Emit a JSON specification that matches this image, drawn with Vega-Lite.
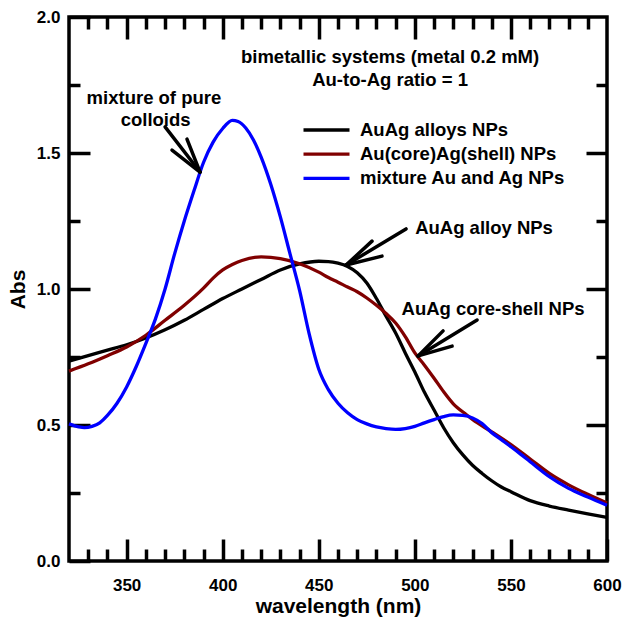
{
  "$schema": "https://vega.github.io/schema/vega-lite/v6.json",
  "width": 538,
  "height": 544,
  "autosize": {"type": "none"},
  "padding": {"left": 69, "top": 17, "right": 16, "bottom": 58},
  "config": {
    "view": {"stroke": "black", "strokeWidth": 3.5},
    "font": "Liberation Sans",
    "axis": {"domain": false, "grid": false, "tickColor": "black", "tickWidth": 3.5, "labelColor": "black", "titleColor": "black", "labelFont": "Liberation Sans", "titleFont": "Liberation Sans", "labelFontWeight": "bold", "titleFontWeight": "bold", "labelFontSize": 17, "titleFontSize": 21, "labelFlush": false, "labelOverlap": false}
  },
  "datasets": {
    "curves": [
      {"series": "AuAg alloys NPs", "wavelength": 320, "abs": 0.735},
      {"series": "AuAg alloys NPs", "wavelength": 330, "abs": 0.755},
      {"series": "AuAg alloys NPs", "wavelength": 340, "abs": 0.775},
      {"series": "AuAg alloys NPs", "wavelength": 350, "abs": 0.795},
      {"series": "AuAg alloys NPs", "wavelength": 360, "abs": 0.82},
      {"series": "AuAg alloys NPs", "wavelength": 370, "abs": 0.85},
      {"series": "AuAg alloys NPs", "wavelength": 380, "abs": 0.885},
      {"series": "AuAg alloys NPs", "wavelength": 390, "abs": 0.925},
      {"series": "AuAg alloys NPs", "wavelength": 400, "abs": 0.965},
      {"series": "AuAg alloys NPs", "wavelength": 410, "abs": 1.0},
      {"series": "AuAg alloys NPs", "wavelength": 420, "abs": 1.035},
      {"series": "AuAg alloys NPs", "wavelength": 430, "abs": 1.07},
      {"series": "AuAg alloys NPs", "wavelength": 440, "abs": 1.092},
      {"series": "AuAg alloys NPs", "wavelength": 450, "abs": 1.102},
      {"series": "AuAg alloys NPs", "wavelength": 455, "abs": 1.101},
      {"series": "AuAg alloys NPs", "wavelength": 460, "abs": 1.095},
      {"series": "AuAg alloys NPs", "wavelength": 465, "abs": 1.083},
      {"series": "AuAg alloys NPs", "wavelength": 470, "abs": 1.06},
      {"series": "AuAg alloys NPs", "wavelength": 475, "abs": 1.022},
      {"series": "AuAg alloys NPs", "wavelength": 480, "abs": 0.965},
      {"series": "AuAg alloys NPs", "wavelength": 485, "abs": 0.9},
      {"series": "AuAg alloys NPs", "wavelength": 490, "abs": 0.838},
      {"series": "AuAg alloys NPs", "wavelength": 495, "abs": 0.765},
      {"series": "AuAg alloys NPs", "wavelength": 500, "abs": 0.695},
      {"series": "AuAg alloys NPs", "wavelength": 505, "abs": 0.62},
      {"series": "AuAg alloys NPs", "wavelength": 510, "abs": 0.555},
      {"series": "AuAg alloys NPs", "wavelength": 515, "abs": 0.49},
      {"series": "AuAg alloys NPs", "wavelength": 520, "abs": 0.435},
      {"series": "AuAg alloys NPs", "wavelength": 525, "abs": 0.39},
      {"series": "AuAg alloys NPs", "wavelength": 530, "abs": 0.352},
      {"series": "AuAg alloys NPs", "wavelength": 535, "abs": 0.322},
      {"series": "AuAg alloys NPs", "wavelength": 540, "abs": 0.295},
      {"series": "AuAg alloys NPs", "wavelength": 545, "abs": 0.272},
      {"series": "AuAg alloys NPs", "wavelength": 550, "abs": 0.255},
      {"series": "AuAg alloys NPs", "wavelength": 560, "abs": 0.222},
      {"series": "AuAg alloys NPs", "wavelength": 570, "abs": 0.202},
      {"series": "AuAg alloys NPs", "wavelength": 580, "abs": 0.187},
      {"series": "AuAg alloys NPs", "wavelength": 590, "abs": 0.173},
      {"series": "AuAg alloys NPs", "wavelength": 600, "abs": 0.16},
      {"series": "Au(core)Ag(shell) NPs", "wavelength": 320, "abs": 0.698},
      {"series": "Au(core)Ag(shell) NPs", "wavelength": 330, "abs": 0.725},
      {"series": "Au(core)Ag(shell) NPs", "wavelength": 340, "abs": 0.755},
      {"series": "Au(core)Ag(shell) NPs", "wavelength": 350, "abs": 0.787},
      {"series": "Au(core)Ag(shell) NPs", "wavelength": 360, "abs": 0.83},
      {"series": "Au(core)Ag(shell) NPs", "wavelength": 370, "abs": 0.885},
      {"series": "Au(core)Ag(shell) NPs", "wavelength": 380, "abs": 0.94},
      {"series": "Au(core)Ag(shell) NPs", "wavelength": 390, "abs": 1.003},
      {"series": "Au(core)Ag(shell) NPs", "wavelength": 395, "abs": 1.04},
      {"series": "Au(core)Ag(shell) NPs", "wavelength": 400, "abs": 1.07},
      {"series": "Au(core)Ag(shell) NPs", "wavelength": 405, "abs": 1.09},
      {"series": "Au(core)Ag(shell) NPs", "wavelength": 410, "abs": 1.105},
      {"series": "Au(core)Ag(shell) NPs", "wavelength": 420, "abs": 1.118},
      {"series": "Au(core)Ag(shell) NPs", "wavelength": 430, "abs": 1.112},
      {"series": "Au(core)Ag(shell) NPs", "wavelength": 440, "abs": 1.093},
      {"series": "Au(core)Ag(shell) NPs", "wavelength": 450, "abs": 1.062},
      {"series": "Au(core)Ag(shell) NPs", "wavelength": 455, "abs": 1.042},
      {"series": "Au(core)Ag(shell) NPs", "wavelength": 460, "abs": 1.025},
      {"series": "Au(core)Ag(shell) NPs", "wavelength": 465, "abs": 1.007},
      {"series": "Au(core)Ag(shell) NPs", "wavelength": 470, "abs": 0.99},
      {"series": "Au(core)Ag(shell) NPs", "wavelength": 475, "abs": 0.967},
      {"series": "Au(core)Ag(shell) NPs", "wavelength": 480, "abs": 0.94},
      {"series": "Au(core)Ag(shell) NPs", "wavelength": 485, "abs": 0.91},
      {"series": "Au(core)Ag(shell) NPs", "wavelength": 490, "abs": 0.875},
      {"series": "Au(core)Ag(shell) NPs", "wavelength": 495, "abs": 0.825},
      {"series": "Au(core)Ag(shell) NPs", "wavelength": 500, "abs": 0.765},
      {"series": "Au(core)Ag(shell) NPs", "wavelength": 505, "abs": 0.72},
      {"series": "Au(core)Ag(shell) NPs", "wavelength": 510, "abs": 0.672},
      {"series": "Au(core)Ag(shell) NPs", "wavelength": 515, "abs": 0.622},
      {"series": "Au(core)Ag(shell) NPs", "wavelength": 520, "abs": 0.578},
      {"series": "Au(core)Ag(shell) NPs", "wavelength": 527, "abs": 0.537},
      {"series": "Au(core)Ag(shell) NPs", "wavelength": 530, "abs": 0.52},
      {"series": "Au(core)Ag(shell) NPs", "wavelength": 540, "abs": 0.475},
      {"series": "Au(core)Ag(shell) NPs", "wavelength": 550, "abs": 0.428},
      {"series": "Au(core)Ag(shell) NPs", "wavelength": 560, "abs": 0.375},
      {"series": "Au(core)Ag(shell) NPs", "wavelength": 570, "abs": 0.322},
      {"series": "Au(core)Ag(shell) NPs", "wavelength": 580, "abs": 0.28},
      {"series": "Au(core)Ag(shell) NPs", "wavelength": 590, "abs": 0.245},
      {"series": "Au(core)Ag(shell) NPs", "wavelength": 600, "abs": 0.213},
      {"series": "mixture Au and Ag NPs", "wavelength": 320, "abs": 0.504},
      {"series": "mixture Au and Ag NPs", "wavelength": 325, "abs": 0.493},
      {"series": "mixture Au and Ag NPs", "wavelength": 328, "abs": 0.49},
      {"series": "mixture Au and Ag NPs", "wavelength": 332, "abs": 0.495},
      {"series": "mixture Au and Ag NPs", "wavelength": 336, "abs": 0.508},
      {"series": "mixture Au and Ag NPs", "wavelength": 340, "abs": 0.535},
      {"series": "mixture Au and Ag NPs", "wavelength": 345, "abs": 0.58},
      {"series": "mixture Au and Ag NPs", "wavelength": 350, "abs": 0.64},
      {"series": "mixture Au and Ag NPs", "wavelength": 355, "abs": 0.715},
      {"series": "mixture Au and Ag NPs", "wavelength": 360, "abs": 0.8},
      {"series": "mixture Au and Ag NPs", "wavelength": 365, "abs": 0.89},
      {"series": "mixture Au and Ag NPs", "wavelength": 370, "abs": 1.0},
      {"series": "mixture Au and Ag NPs", "wavelength": 375, "abs": 1.13},
      {"series": "mixture Au and Ag NPs", "wavelength": 380, "abs": 1.25},
      {"series": "mixture Au and Ag NPs", "wavelength": 385, "abs": 1.36},
      {"series": "mixture Au and Ag NPs", "wavelength": 390, "abs": 1.465},
      {"series": "mixture Au and Ag NPs", "wavelength": 395, "abs": 1.54},
      {"series": "mixture Au and Ag NPs", "wavelength": 400, "abs": 1.59},
      {"series": "mixture Au and Ag NPs", "wavelength": 405, "abs": 1.62},
      {"series": "mixture Au and Ag NPs", "wavelength": 408, "abs": 1.616},
      {"series": "mixture Au and Ag NPs", "wavelength": 412, "abs": 1.592},
      {"series": "mixture Au and Ag NPs", "wavelength": 416, "abs": 1.548},
      {"series": "mixture Au and Ag NPs", "wavelength": 420, "abs": 1.485},
      {"series": "mixture Au and Ag NPs", "wavelength": 425, "abs": 1.385},
      {"series": "mixture Au and Ag NPs", "wavelength": 430, "abs": 1.265},
      {"series": "mixture Au and Ag NPs", "wavelength": 435, "abs": 1.13},
      {"series": "mixture Au and Ag NPs", "wavelength": 440, "abs": 0.995},
      {"series": "mixture Au and Ag NPs", "wavelength": 445, "abs": 0.835},
      {"series": "mixture Au and Ag NPs", "wavelength": 450, "abs": 0.705},
      {"series": "mixture Au and Ag NPs", "wavelength": 455, "abs": 0.63},
      {"series": "mixture Au and Ag NPs", "wavelength": 460, "abs": 0.58},
      {"series": "mixture Au and Ag NPs", "wavelength": 465, "abs": 0.545},
      {"series": "mixture Au and Ag NPs", "wavelength": 470, "abs": 0.52},
      {"series": "mixture Au and Ag NPs", "wavelength": 475, "abs": 0.504},
      {"series": "mixture Au and Ag NPs", "wavelength": 480, "abs": 0.493},
      {"series": "mixture Au and Ag NPs", "wavelength": 485, "abs": 0.487},
      {"series": "mixture Au and Ag NPs", "wavelength": 490, "abs": 0.484},
      {"series": "mixture Au and Ag NPs", "wavelength": 495, "abs": 0.487},
      {"series": "mixture Au and Ag NPs", "wavelength": 500, "abs": 0.495},
      {"series": "mixture Au and Ag NPs", "wavelength": 505, "abs": 0.508},
      {"series": "mixture Au and Ag NPs", "wavelength": 510, "abs": 0.52},
      {"series": "mixture Au and Ag NPs", "wavelength": 515, "abs": 0.531},
      {"series": "mixture Au and Ag NPs", "wavelength": 520, "abs": 0.537},
      {"series": "mixture Au and Ag NPs", "wavelength": 525, "abs": 0.535},
      {"series": "mixture Au and Ag NPs", "wavelength": 530, "abs": 0.526},
      {"series": "mixture Au and Ag NPs", "wavelength": 535, "abs": 0.505},
      {"series": "mixture Au and Ag NPs", "wavelength": 540, "abs": 0.472},
      {"series": "mixture Au and Ag NPs", "wavelength": 545, "abs": 0.446},
      {"series": "mixture Au and Ag NPs", "wavelength": 550, "abs": 0.42},
      {"series": "mixture Au and Ag NPs", "wavelength": 555, "abs": 0.393},
      {"series": "mixture Au and Ag NPs", "wavelength": 560, "abs": 0.365},
      {"series": "mixture Au and Ag NPs", "wavelength": 570, "abs": 0.31},
      {"series": "mixture Au and Ag NPs", "wavelength": 580, "abs": 0.267},
      {"series": "mixture Au and Ag NPs", "wavelength": 590, "abs": 0.235},
      {"series": "mixture Au and Ag NPs", "wavelength": 600, "abs": 0.205}
    ],
    "arrows": [
      {"x": 370.0, "y": 1.596, "x2": 388.2, "y2": 1.43},
      {"x": 388.2, "y": 1.43, "x2": 373.6, "y2": 1.511},
      {"x": 388.2, "y": 1.43, "x2": 381.4, "y2": 1.551},
      {"x": 495.4, "y": 1.221, "x2": 464.2, "y2": 1.088},
      {"x": 464.2, "y": 1.088, "x2": 477.7, "y2": 1.176},
      {"x": 464.2, "y": 1.088, "x2": 482.9, "y2": 1.121},
      {"x": 532.4, "y": 0.886, "x2": 501.7, "y2": 0.754},
      {"x": 501.7, "y": 0.754, "x2": 514.7, "y2": 0.846},
      {"x": 501.7, "y": 0.754, "x2": 519.4, "y2": 0.79}
    ],
    "header": [
      {"x": 487.1, "y": 1.853, "label": "bimetallic systems (metal 0.2 mM)"},
      {"x": 487.1, "y": 1.768, "label": "Au-to-Ag ratio = 1"}
    ],
    "callouts": [
      {"x": 364.2, "y": 1.702, "label": "mixture of pure"},
      {"x": 365.1, "y": 1.621, "label": "colloids"},
      {"x": 536.0, "y": 1.224, "label": "AuAg alloy NPs"},
      {"x": 540.7, "y": 0.926, "label": "AuAg core-shell NPs"}
    ]
  },
  "layer": [
    {
      "data": {"name": "curves"},
      "mark": {"type": "line", "strokeWidth": 3.3, "interpolate": "monotone"},
      "encoding": {
        "x": {"field": "wavelength", "type": "quantitative", "scale": {"domain": [320, 600], "nice": false, "zero": false},
          "axis": {"orient": "bottom", "values": [350, 400, 450, 500, 550, 600], "tickSize": -22, "labelPadding": 38, "title": "wavelength (nm)", "titlePadding": 2}},
        "y": {"field": "abs", "type": "quantitative", "scale": {"domain": [0, 2], "nice": false},
          "axis": {"orient": "left", "values": [0, 0.5, 1, 1.5, 2], "format": ".1f", "tickSize": -21, "labelPadding": 30, "title": "Abs", "titlePadding": 8}},
        "color": {"field": "series", "type": "nominal",
          "scale": {"domain": ["AuAg alloys NPs", "Au(core)Ag(shell) NPs", "mixture Au and Ag NPs"], "range": ["#000000", "#800000", "#0000ff"]},
          "legend": {"orient": "none", "legendX": 244, "legendY": 99.5, "title": null, "symbolType": "M-2,0H2", "symbolSize": 529, "symbolStrokeWidth": 3.3, "labelFont": "Liberation Sans", "labelFontSize": 18.5, "labelFontWeight": "bold", "labelColor": "black", "labelOffset": 20, "rowPadding": 1.2, "labelLimit": 400}}
      }
    },
    {
      "data": {"name": "arrows"},
      "mark": {"type": "rule", "strokeWidth": 3.5, "color": "black", "strokeCap": "round"},
      "encoding": {
        "x": {"field": "x", "type": "quantitative",
          "axis": {"orient": "bottom", "values": [330, 340, 360, 370, 380, 390, 410, 420, 430, 440, 460, 470, 480, 490, 510, 520, 530, 540, 560, 570, 580, 590], "tickSize": -12, "labels": false, "title": null}},
        "y": {"field": "y", "type": "quantitative",
          "axis": {"orient": "left", "values": [0.25, 0.75, 1.25, 1.75], "tickSize": -11, "labels": false, "title": null}},
        "x2": {"field": "x2"},
        "y2": {"field": "y2"}
      }
    },
    {
      "data": {"name": "header"},
      "mark": {"type": "text", "font": "Liberation Sans", "fontWeight": "bold", "fontSize": 18.5, "color": "black", "align": "center", "baseline": "middle"},
      "encoding": {
        "x": {"field": "x", "type": "quantitative",
          "axis": {"orient": "top", "values": [350, 400, 450, 500, 550], "tickSize": -22, "labels": false, "title": null}},
        "y": {"field": "y", "type": "quantitative",
          "axis": {"orient": "right", "values": [0.5, 1, 1.5], "tickSize": -21, "labels": false, "title": null}},
        "text": {"field": "label"}
      }
    },
    {
      "data": {"name": "callouts"},
      "mark": {"type": "text", "font": "Liberation Sans", "fontWeight": "bold", "fontSize": 18.5, "color": "black", "align": "center", "baseline": "middle"},
      "encoding": {
        "x": {"field": "x", "type": "quantitative",
          "axis": {"orient": "top", "values": [330, 340, 360, 370, 380, 390, 410, 420, 430, 440, 460, 470, 480, 490, 510, 520, 530, 540, 560, 570, 580, 590], "tickSize": -12, "labels": false, "title": null}},
        "y": {"field": "y", "type": "quantitative",
          "axis": {"orient": "right", "values": [0.25, 0.75, 1.25, 1.75], "tickSize": -11, "labels": false, "title": null}},
        "text": {"field": "label"}
      }
    }
  ],
  "resolve": {"axis": {"x": "independent", "y": "independent"}}
}
